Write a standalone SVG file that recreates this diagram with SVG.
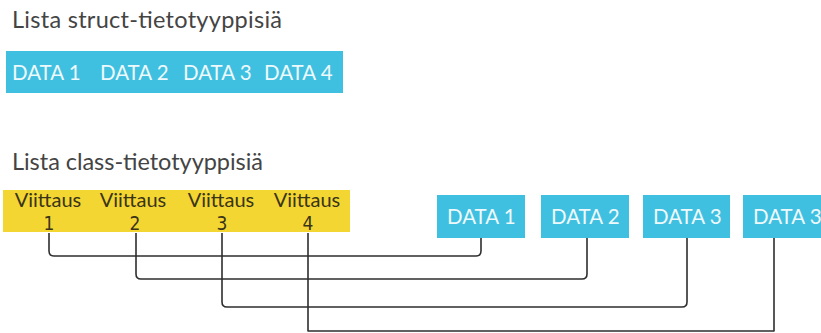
<svg xmlns="http://www.w3.org/2000/svg" width="821" height="333" viewBox="0 0 821 333">
  <style>
    .title { font-family: Lato, "Open Sans", sans-serif; font-size: 23.5px; fill: #444444; }
    .blue { fill: #3fc0e0; }
    .yellow { fill: #f3d631; }
    .dtext { font-family: Lato, "Open Sans", sans-serif; font-size: 20.5px; fill: #eef9fc; }
    .ref { font-family: Lato, "Open Sans", sans-serif; font-size: 20px; fill: #3a3418; text-anchor: middle; }
    .num { font-family: "DejaVu Sans Condensed", Lato, sans-serif; font-size: 19px; fill: #3a3418; text-anchor: middle; }
    .wire { fill: none; stroke: #2e2e2e; stroke-width: 1.6; stroke-linejoin: round; }
  </style>
  <rect width="821" height="333" fill="#ffffff"/>

  <!-- struct list -->
  <text class="title" x="12" y="28" textLength="270" lengthAdjust="spacing">Lista struct-tietotyyppisiä</text>
  <g id="struct-list">
    <rect class="blue" x="6" y="51" width="337" height="42"/>
    <text class="dtext" x="12" y="80">DATA 1</text>
    <text class="dtext" x="100" y="80">DATA 2</text>
    <text class="dtext" x="183" y="80">DATA 3</text>
    <text class="dtext" x="264" y="80">DATA 4</text>
  </g>

  <!-- class list -->
  <text class="title" x="12" y="170" textLength="251" lengthAdjust="spacing">Lista class-tietotyyppisiä</text>
  <g id="ref-list">
    <rect class="yellow" x="3" y="190" width="347" height="42"/>
    <text class="ref" x="48" y="207">Viittaus</text>
    <text class="num" x="49" y="230">1</text>
    <text class="ref" x="133" y="207">Viittaus</text>
    <text class="num" x="135" y="230">2</text>
    <text class="ref" x="221" y="207">Viittaus</text>
    <text class="num" x="222" y="230">3</text>
    <text class="ref" x="307" y="207">Viittaus</text>
    <text class="num" x="308" y="230">4</text>
  </g>

  <g id="obj1">
    <rect class="blue" x="437" y="195" width="88" height="43"/>
    <text class="dtext" x="447" y="224">DATA 1</text>
  </g>
  <g id="obj2">
    <rect class="blue" x="541" y="195" width="88" height="43"/>
    <text class="dtext" x="551" y="224">DATA 2</text>
  </g>
  <g id="obj3">
    <rect class="blue" x="643" y="195" width="87" height="43"/>
    <text class="dtext" x="653" y="224">DATA 3</text>
  </g>
  <g id="obj4">
    <rect class="blue" x="743" y="195" width="90" height="43"/>
    <text class="dtext" x="753" y="224">DATA 3</text>
  </g>

  <!-- references to objects -->
  <g id="connectors">
    <path class="wire" d="M49 233 V251 Q49 256 54 256 H476 Q481 256 481 251 V238"/>
    <path class="wire" d="M136 233 V274 Q136 279 141 279 H582 Q587 279 587 274 V238"/>
    <path class="wire" d="M222 233 V302 Q222 307 227 307 H682 Q687 307 687 302 V238"/>
    <path class="wire" d="M308 233 V331 H774 V238"/>
  </g>
</svg>
